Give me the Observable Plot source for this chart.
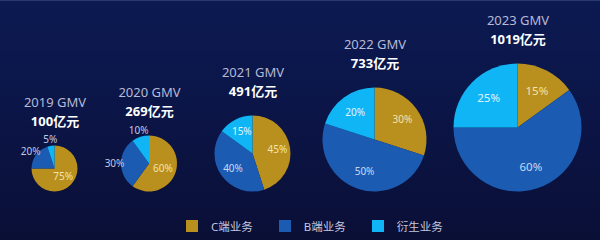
<!DOCTYPE html>
<html>
<head>
<meta charset="utf-8">
<script src="https://cdn.jsdelivr.net/npm/d3@7"></script>
<script src="https://cdn.jsdelivr.net/npm/@observablehq/plot@0.6"></script>
<style>
  html, body { margin: 0; padding: 0; background: #0b1240; }
  #wrap {
    width: 600px; height: 240px; overflow: hidden; box-sizing: border-box;
    background: linear-gradient(180deg, #0c1a52 0%, #0b1547 45%, #0a0f36 100%);
    border-top: 1px solid #2c3a72;
    font-family: "Noto Sans", "Noto Sans CJK SC", sans-serif;
  }
  #wrap svg { display: block; }
  .lg-swatches { font-family: "Noto Sans", "Noto Sans CJK SC", sans-serif !important; font-size: 11.5px !important; color: #c2c6de !important; margin: 0 0 0 186px !important; }
  .lg-swatches-wrap { min-height: 29px !important; }
  .lg-swatch { margin-right: 26px !important; }
  .lg-swatch > svg { margin-right: 13px !important; }
</style>
</head>
<body>
<div id="wrap"></div>
<script>
// ---- data ----
const years = [2019, 2020, 2021, 2022, 2023];
const gmv = [100, 269, 491, 733, 1019];            // 亿元
const categories = ["C端业务", "B端业务", "衍生业务"];
const cShare = [75, 60, 45, 30, 15];               // %
const bShare = [20, 30, 40, 50, 60];
const dShare = [5, 10, 15, 20, 25];

// ---- layout / style ----
const colors = ["#b98f1d", "#1b5cb2", "#10b5f5"];
const labelColors = ["#f2e4ae", "#c9d8f2", "#e2f4ff"];
const outsideLabelColor = "#c4c8e2";
const centerX = [54.5, 149, 252.5, 374.5, 517.5];
const radiusPx = [23, 28, 38, 52, 64];
const baseline = 190.5;

// build segment table
const shares = [cShare, bShare, dShare];
const segs = [];
years.forEach((year, i) => {
  let a0 = 0;
  categories.forEach((cat, j) => {
    const share = shares[j][i];
    const a1 = a0 + share / 100 * 2 * Math.PI;
    segs.push({year, gmv: gmv[i], cat, ci: j, share, a0, a1, mid: (a0 + a1) / 2});
    a0 = a1;
  });
});
const pies = years.map((year, i) => ({year, gmv: gmv[i]}));

// label placement rule (relative to pie radius)
const isSmallPie = d => d.gmv < 400;
const isOutside = d => isSmallPie(d) && d.share < 50;
function labelDist(d, r) {
  if (!isSmallPie(d)) return 0.65 * r;
  return isOutside(d) ? r + 7 : 0.5 * r;
}

// render transform: shift text relative to pie centre using the r scale
function shifter(data, f) {
  return (index, scales, values, dims, ctx, next) => {
    const X = Array.from(values.x), Y = Array.from(values.y);
    for (const i of index) {
      const d = data[i];
      const r = scales.r(d.gmv);
      const [dx, dy] = f(d, r);
      X[i] = values.x[i] + dx;
      Y[i] = values.y[i] - r + dy;
    }
    return next(index, scales, {...values, x: X, y: Y}, dims, ctx);
  };
}
const pctShift = (d, r) => {
  const dist = labelDist(d, r);
  return [Math.sin(d.mid) * dist, -Math.cos(d.mid) * dist];
};

const font = "Noto Sans, Noto Sans CJK SC, sans-serif";
const pctMarks = [];
categories.forEach((cat, j) => {
  const data = segs.filter(d => d.ci === j && !isOutside(d));
  pctMarks.push(Plot.text(data, {
    x: "year", y: () => 0, text: d => d.share + "%",
    fill: labelColors[j], fontSize: d => d.gmv >= 1000 ? 11.5 : 10, fontFamily: font,
    render: shifter(data, pctShift)
  }));
});
const outData = segs.filter(isOutside);
pctMarks.push(Plot.text(outData, {
  x: "year", y: () => 0, text: d => d.share + "%",
  fill: outsideLabelColor, fontSize: 10, fontFamily: font,
  render: shifter(outData, pctShift)
}));

const chart = Plot.plot({
  width: 600, height: 210, margin: 0,
  style: {background: "transparent", overflow: "visible"},
  x: {type: "linear", domain: years, range: centerX, axis: null},
  y: {type: "linear", domain: [0, 1], range: [baseline, 0], axis: null},
  r: {type: "linear", domain: gmv, range: radiusPx},
  color: {domain: categories, range: colors},
  marks: [
    Plot.dot(segs, {
      x: "year", y: () => 0, r: "gmv", fill: "cat",
      render: (index, scales, values) => {
        const g = d3.create("svg:g");
        const arc = d3.arc();
        for (const i of index) {
          const d = segs[i];
          const r = values.r[i];
          const cx = values.x[i], cy = values.y[i] - r;
          g.append("path")
            .attr("transform", `translate(${cx},${cy})`)
            .attr("d", arc({innerRadius: 0, outerRadius: r, startAngle: d.a0, endAngle: d.a1}))
            .attr("fill", values.fill[i]);
        }
        return g.node();
      }
    }),
    ...pctMarks,
    Plot.text(pies, {
      x: "year", y: () => 0, text: d => `${d.year} GMV`,
      fill: "#b6bad6", fontSize: 13, fontFamily: font,
      render: shifter(pies, (d, r) => [0, -r - 43])
    }),
    Plot.text(pies, {
      x: "year", y: () => 0, text: d => `${d.gmv}亿元`,
      fill: "#ffffff", fontSize: 13, fontWeight: "bold", fontFamily: font,
      render: shifter(pies, (d, r) => [0, -r - 24])
    })
  ]
});

const legend = Plot.legend({
  color: {domain: categories, range: colors},
  legend: "swatches", swatchSize: 12, className: "lg"
});

const wrap = document.getElementById("wrap");
wrap.appendChild(chart);
wrap.appendChild(legend);
</script>
</body>
</html>
